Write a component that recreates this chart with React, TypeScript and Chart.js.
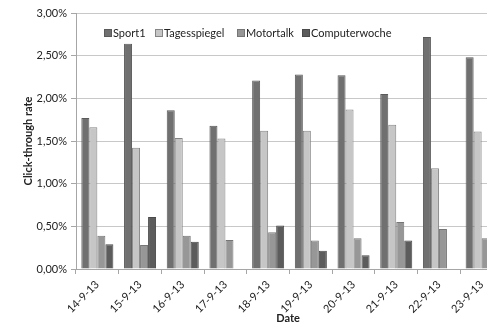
import React, { useEffect, useRef } from "react";
import { Chart, registerables } from "chart.js";

Chart.register(...registerables);

const categories = ["14-9-13", "15-9-13", "16-9-13", "17-9-13", "18-9-13", "19-9-13", "20-9-13", "21-9-13", "22-9-13", "23-9-13"];
const sport1 = [1.77, 2.64, 1.86, 1.68, 2.21, 2.28, 2.27, 2.05, 2.72, 2.48];
const tagesspiegel = [1.66, 1.42, 1.535, 1.53, 1.62, 1.62, 1.87, 1.69, 1.18, 1.61];
const motortalk = [0.39, 0.28, 0.39, 0.34, 0.43, 0.335, 0.36, 0.55, 0.47, 0.36];
const computerwoche = [0.29, 0.61, 0.32, null, 0.51, 0.215, 0.16, 0.335, null, null];
const yTicks = [0, 0.5, 1, 1.5, 2, 2.5, 3];

const seriesNames = ["Sport1", "Tagesspiegel", "Motortalk", "Computerwoche"];
const fills = ["#707070", "#c6c6c6", "#979797", "#5c5c5c"];
const borders = ["#5a5a5a", "#858585", "#767676", "#4a4a4a"];
const legendX = [104, 155, 237, 302];
const xTitle = "Date";

const FONT = "Lato, 'Open Sans', sans-serif";

const legendPlugin = {
  id: "innerLegend",
  afterDraw(chart: any) {
    const ctx = chart.ctx;
    ctx.save();
    ctx.font = `11px ${FONT}`;
    ctx.textBaseline = "middle";
    ctx.textAlign = "left";
    seriesNames.forEach((name, i) => {
      const x = legendX[i];
      const y = 33;
      ctx.fillStyle = fills[i];
      ctx.fillRect(x + 0.5, y - 3.5, 7, 7);
      ctx.strokeStyle = borders[i];
      ctx.lineWidth = 1;
      ctx.strokeRect(x + 0.5, y - 3.5, 7, 7);
      ctx.fillStyle = "#222";
      ctx.fillText(name, x + 9, y);
    });
    ctx.font = `bold 11px ${FONT}`;
    ctx.textAlign = "center";
    ctx.fillText(xTitle, 288, 318);
    ctx.restore();
  },
};

export default function App() {
  const ref = useRef<HTMLCanvasElement>(null);
  useEffect(() => {
    if (!ref.current) return;
    const data = [sport1, tagesspiegel, motortalk, computerwoche];
    const chart = new Chart(ref.current, {
      type: "bar",
      data: {
        labels: categories,
        datasets: seriesNames.map((n, i) => ({
          label: n,
          data: data[i] as any,
          backgroundColor: fills[i],
          borderColor: borders[i],
          borderWidth: 1,
          barPercentage: 1,
          categoryPercentage: 0.75,
        })),
      },
      options: {
        animation: false,
        responsive: false,
        maintainAspectRatio: false,
        layout: { padding: { top: 13, left: 0, right: 0, bottom: 0 } },
        plugins: { legend: { display: false }, tooltip: { enabled: false } },
        scales: {
          x: {
            afterFit: (s: any) => { s.height = 55; },
            grid: { display: true, drawOnChartArea: false, drawTicks: true, tickLength: 5, color: "#a6a6a6", offset: true },
            border: { display: true, color: "#a6a6a6" },
            ticks: { autoSkip: false, maxRotation: 45, minRotation: 45, padding: 4, color: "#222", font: { family: FONT, size: 11 } },
          },
          y: {
            min: 0,
            max: 3,
            afterFit: (s: any) => { s.width = 76; },
            afterBuildTicks: (s: any) => { s.ticks = yTicks.map((v) => ({ value: v })); },
            grid: { color: "#c8c8c8", tickColor: "#a6a6a6", tickLength: 5 },
            border: { display: true, color: "#a6a6a6" },
            ticks: {
              padding: 4,
              color: "#222",
              font: { family: FONT, size: 11 },
              callback: (v: any) => Number(v).toFixed(2).replace(".", ",") + "%",
            },
            title: { display: true, text: "Click-through rate", color: "#222", font: { family: FONT, size: 11, weight: "bold" }, padding: { top: 22, bottom: 0 } },
          },
        },
      },
      plugins: [legendPlugin],
    });
    return () => chart.destroy();
  }, []);
  return (
    <div style={{ position: "fixed", left: 0, top: 0, width: 487, height: 324, overflow: "hidden", background: "#fff" }}>
      <canvas ref={ref} width={503} height={324} style={{ display: "block", width: 503, height: 324 }} />
    </div>
  );
}
